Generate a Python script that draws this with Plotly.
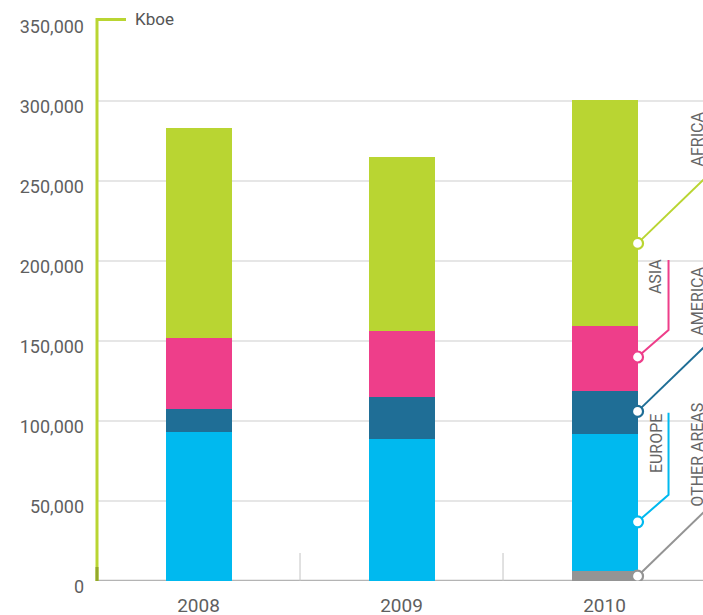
import plotly.graph_objects as go

years = ["2008", "2009", "2010"]
other_areas = [0, 0, 6000]
europe = [93000, 88750, 86000]
america = [14500, 26250, 26750]
asia = [44500, 41250, 40750]
africa = [131000, 108750, 141000]

series = [
    ("OTHER AREAS", other_areas, "#949494"),
    ("EUROPE", europe, "#00b9ef"),
    ("AMERICA", america, "#1f6e96"),
    ("ASIA", asia, "#ee3e8a"),
    ("AFRICA", africa, "#b9d532"),
]

y_ticks = [0, 50000, 100000, 150000, 200000, 250000, 300000, 350000]
unit_label = "Kboe"

# callout anchor values (Kboe) on the 2010 bar, and label centres
callout_y = {"AFRICA": 211000, "ASIA": 140000, "AMERICA": 106000, "EUROPE": 37000, "OTHER AREAS": 3000}
label_pos = {"AFRICA": (2.456, 276000), "ASIA": (2.249, 190000), "AMERICA": (2.456, 174700),
             "EUROPE": (2.254, 86250), "OTHER AREAS": (2.456, 79000)}

W, H = 703, 615
ML, MR, MT, MB = 97, 0, 21, 34
XR = [-0.5, 2.485]
YR = [0, 350000]
BAR_W = 0.325
PW, PH = W - ML - MR, H - MT - MB
pxx = PW / (XR[1] - XR[0])
pxy = PH / (YR[1] - YR[0])

def dx(p):
    return p / pxx

def dy(p):
    return p / pxy

x_idx = list(range(len(years)))
fig = go.Figure()
for name, vals, col in series:
    fig.add_trace(go.Bar(x=x_idx, y=vals, name=name, marker=dict(color=col, line=dict(width=0)),
                         width=BAR_W, showlegend=False, hoverinfo="skip"))

shapes = []
# gridlines
for t in y_ticks[1:-1]:
    shapes.append(dict(type="line", xref="paper", yref="y", x0=0, x1=1, y0=t, y1=t,
                       line=dict(color="#dedede", width=1.5), layer="below"))
# zero line
shapes.append(dict(type="line", xref="paper", yref="y", x0=0, x1=1, y0=0, y1=0,
                   line=dict(color="#b4b4b4", width=2.5), layer="below"))
# separators between categories
for i in range(len(years) - 1):
    shapes.append(dict(type="line", xref="x", yref="y", x0=i + 0.5, x1=i + 0.5, y0=0, y1=17500,
                       line=dict(color="#c4c4c4", width=1), layer="below"))
# green unit axis
top = 1 + 1.5 / PH
shapes.append(dict(type="path", xref="paper", yref="paper",
                   path=f"M 0,0 L 0,{top} L {29 / PW},{top}",
                   line=dict(color="#b9d532", width=3)))
shapes.append(dict(type="line", xref="paper", yref="paper", x0=0, x1=0, y0=0, y1=14 / PH,
                   line=dict(color="#93a82a", width=3)))

# callouts
last = len(years) - 1
xa = last + BAR_W / 2
col_of = {n: c for n, _, c in series}
for name in ["AFRICA", "ASIA", "AMERICA", "EUROPE", "OTHER AREAS"]:
    c = col_of[name]
    y0 = callout_y[name]
    if name in ("ASIA", "EUROPE"):
        top_px = 97 if name == "ASIA" else 109
        pts = [(0, 0), (31, 27), (31, top_px)]
    else:
        pts = [(0, 0), (120, 116)]
    path = "M " + " L ".join(f"{xa + dx(px)},{y0 + dy(py)}" for px, py in pts)
    shapes.append(dict(type="path", xref="x", yref="y", path=path, line=dict(color=c, width=2)))
for name in ["AFRICA", "ASIA", "AMERICA", "EUROPE", "OTHER AREAS"]:
    c = col_of[name]
    shapes.append(dict(type="circle", xref="x", yref="y", xsizemode="pixel", ysizemode="pixel",
                       xanchor=xa, yanchor=callout_y[name], x0=-5.5, x1=5.5, y0=-5.5, y1=5.5,
                       line=dict(color=c, width=2.2), fillcolor="white"))

annotations = []
for name, (lx, ly) in label_pos.items():
    annotations.append(dict(x=lx, y=ly, xref="x", yref="y", text=name, showarrow=False, textangle=-90,
                            xanchor="center", yanchor="middle",
                            font=dict(family="Roboto", size=16, color="#666666")))
annotations.append(dict(x=36 / PW, y=top, xref="paper", yref="paper", text=unit_label,
                        showarrow=False, xanchor="left", yanchor="middle",
                        font=dict(family="Roboto", size=17, color="#555555")))

fig.update_layout(
    width=W, height=H, margin=dict(l=ML, r=MR, t=MT, b=MB, autoexpand=False),
    barmode="stack", bargap=0,
    paper_bgcolor="white", plot_bgcolor="white",
    shapes=shapes, annotations=annotations,
    xaxis=dict(range=XR, tickvals=x_idx, ticktext=years, showgrid=False, zeroline=False, showline=False,
               ticks="", ticklabelstandoff=11, tickfont=dict(family="Roboto", size=19, color="#5f5f5f"),
               fixedrange=True, automargin=False),
    yaxis=dict(range=YR, tickvals=y_ticks, tickformat=",", showgrid=False, zeroline=False, showline=False,
               ticks="", ticklabelstandoff=12, ticklabelshift=6,
               tickfont=dict(family="Roboto", size=18, color="#5f5f5f"), fixedrange=True, automargin=False),
)

page_css = ("document.body.style.margin='0';"
            "document.documentElement.style.overflow='hidden';"
            "document.body.style.overflow='hidden';")
fig.write_html("out.html", post_script=page_css, config={"displayModeBar": False})
